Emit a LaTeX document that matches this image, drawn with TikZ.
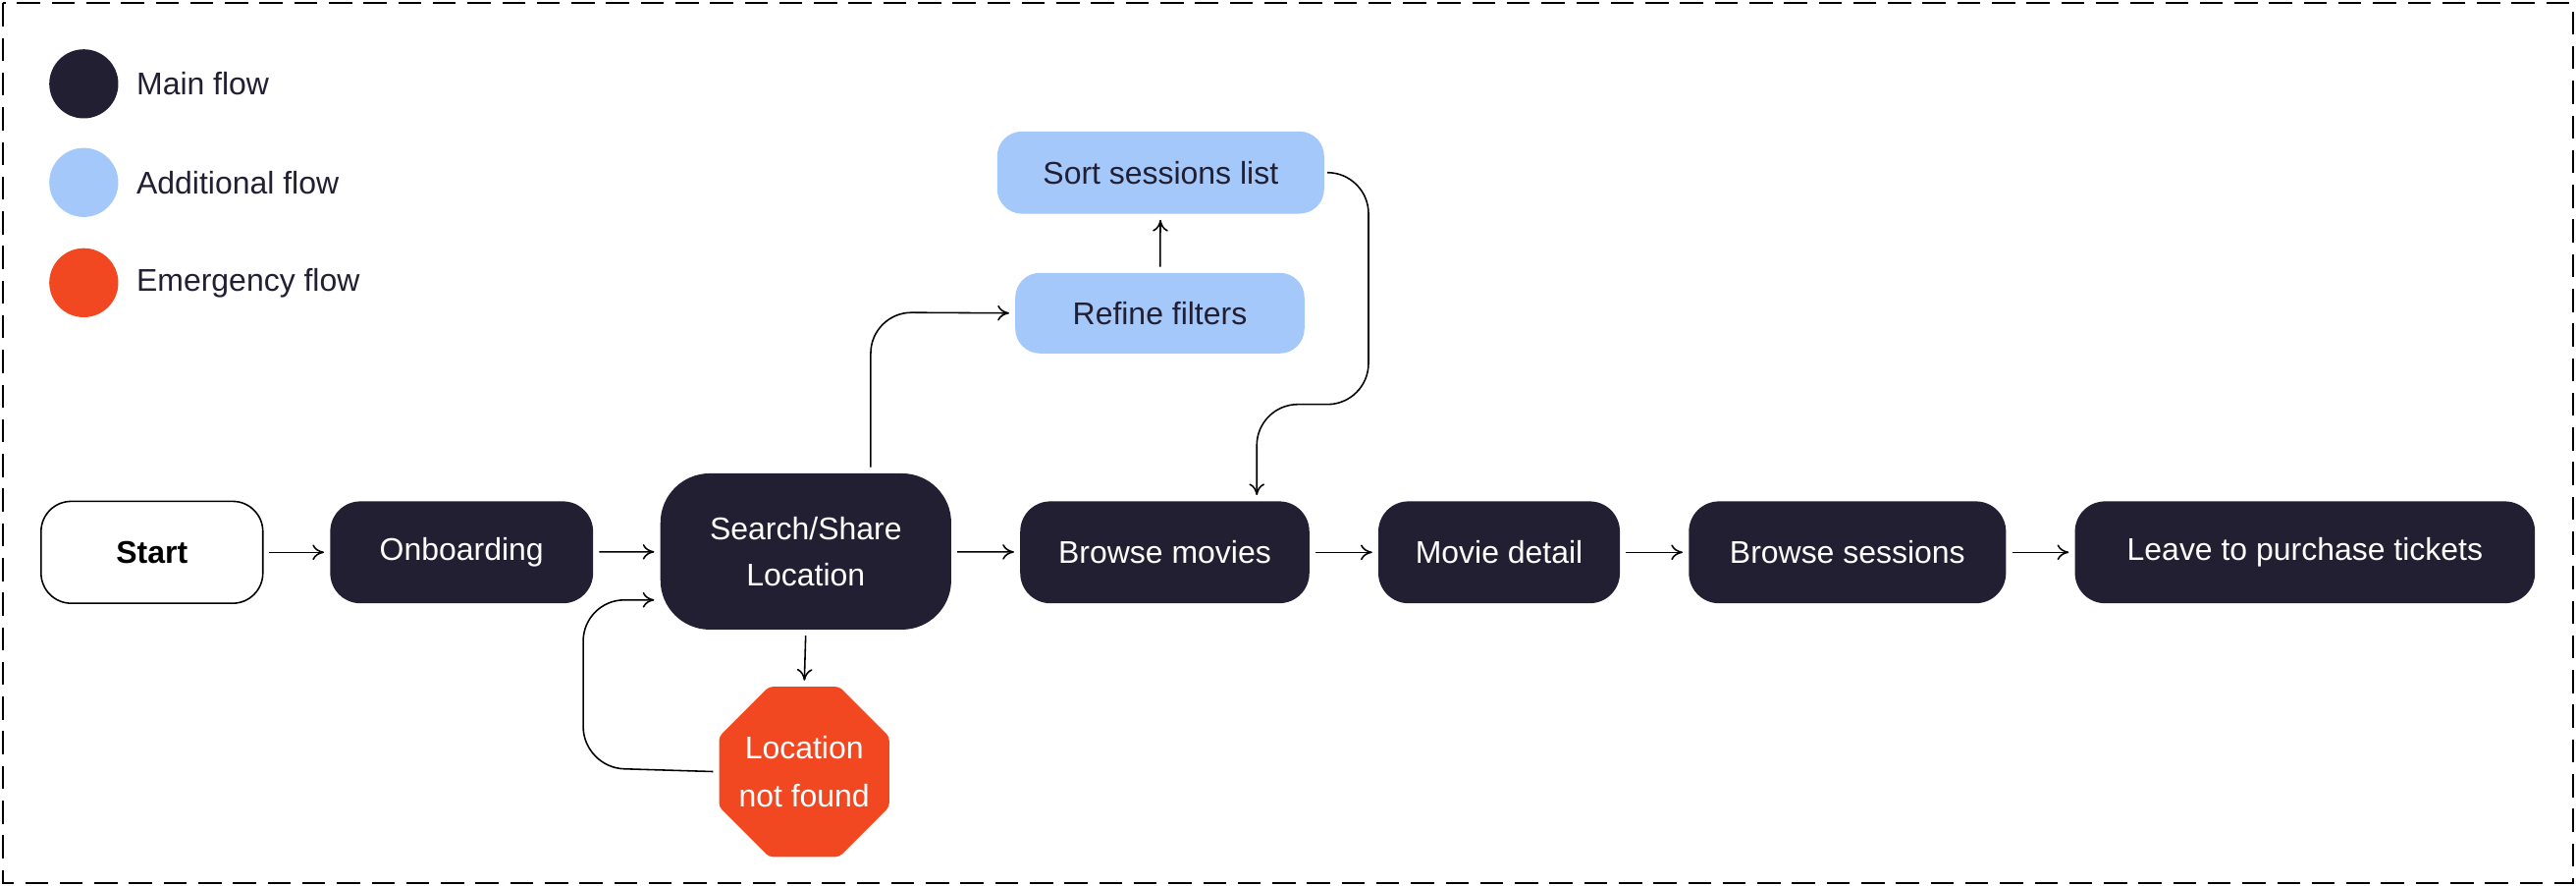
\documentclass[tikz,border=0pt]{standalone}
\usepackage{fontspec}
\setmainfont{Liberation Sans}
\usetikzlibrary{shapes.geometric,arrows.meta}
\definecolor{mainc}{HTML}{231F33}
\definecolor{addc}{HTML}{A3C8F9}
\definecolor{emc}{HTML}{F24822}
\tikzset{
 box/.style={rectangle,rounded corners=0.55cm,inner sep=0pt,font=\fontsize{16.3}{24}\selectfont,align=center},
 mainbox/.style={box,fill=mainc,text=white},
 addbox/.style={box,fill=addc,text=mainc},
 arr/.style={-{To[length=6pt,width=8pt]},line width=0.8pt,black,shorten <=3pt,shorten >=3pt},
 leg/.style={circle,minimum size=1.26cm,inner sep=0pt},
 legt/.style={anchor=west,font=\fontsize{16.3}{24}\selectfont,text=mainc}
}
\begin{document}
\begin{tikzpicture}[x=0.03cm,y=-0.03cm]
\useasboundingbox (0,0) rectangle (1568,539);
\draw[line width=0.9pt,black,dash pattern=on 12pt off 6pt] (2,2) rectangle (1566,537);
\node[leg,fill=mainc] (l1) at (51,51) {};
\node[leg,fill=addc] (l2) at (51,111) {};
\node[leg,fill=emc] (l3) at (51,172) {};
\node[legt] (t1) at (79,51) {Main flow};
\node[legt] (t2) at (79,111) {Additional flow};
\node[legt] (t3) at (79,172) {Emergency flow};

\node[box,draw=black,line width=0.8pt,fill=white,minimum width=135*0.03cm,minimum height=62*0.03cm,font=\fontsize{16.3}{24}\selectfont\bfseries] (start) at (92.5,336) {Start};
\node[mainbox,minimum width=160*0.03cm,minimum height=62*0.03cm] (onb) at (281,336) {Onboarding};
\node[mainbox,rounded corners=0.9cm,minimum width=177*0.03cm,minimum height=95*0.03cm] (search) at (490.5,335.5) {Search/Share\\Location};
\node[mainbox,minimum width=176*0.03cm,minimum height=62*0.03cm] (browse) at (709,336) {Browse movies};
\node[mainbox,minimum width=147*0.03cm,minimum height=62*0.03cm] (detail) at (912.5,336) {Movie detail};
\node[mainbox,minimum width=193*0.03cm,minimum height=62*0.03cm] (sess) at (1124.5,336) {Browse sessions};
\node[mainbox,minimum width=280*0.03cm,minimum height=62*0.03cm] (leave) at (1403,336) {Leave to purchase tickets};
\node[addbox,rounded corners=0.45cm,minimum width=176*0.03cm,minimum height=49*0.03cm] (refine) at (706,190.5) {Refine filters};
\node[addbox,rounded corners=0.45cm,minimum width=199*0.03cm,minimum height=50*0.03cm] (sort) at (706.5,105) {Sort sessions list};
\node[regular polygon,regular polygon sides=8,minimum size=112*0.03cm,inner sep=-6pt,fill=emc,text=white,rounded corners=2pt,align=center,font=\fontsize{16.3}{25}\selectfont] (lnf) at (489.5,469.5) {Location\\not found};

\draw[arr] (start) -- (onb);
\draw[arr] (onb) -- (search);
\draw[arr] (search) -- (browse);
\draw[arr] (browse) -- (detail);
\draw[arr] (detail) -- (sess);
\draw[arr] (sess) -- (leave);
\draw[arr] (refine) -- (sort);
\draw[arr] (search.south) -- (lnf.north);
\draw[arr,rounded corners=0.75cm] (search.north -| 530,0) -- (530,190) -- (refine.west);
\draw[arr,rounded corners=0.75cm] (sort.east) -- (833,105) -- (833,246) -- (765,246) -- (browse.north -| 765,0);
\draw[arr,rounded corners=0.75cm] (lnf.west) -- (355,467) -- (355,365) -- (search.west |- 0,365);
\end{tikzpicture}
\end{document}
